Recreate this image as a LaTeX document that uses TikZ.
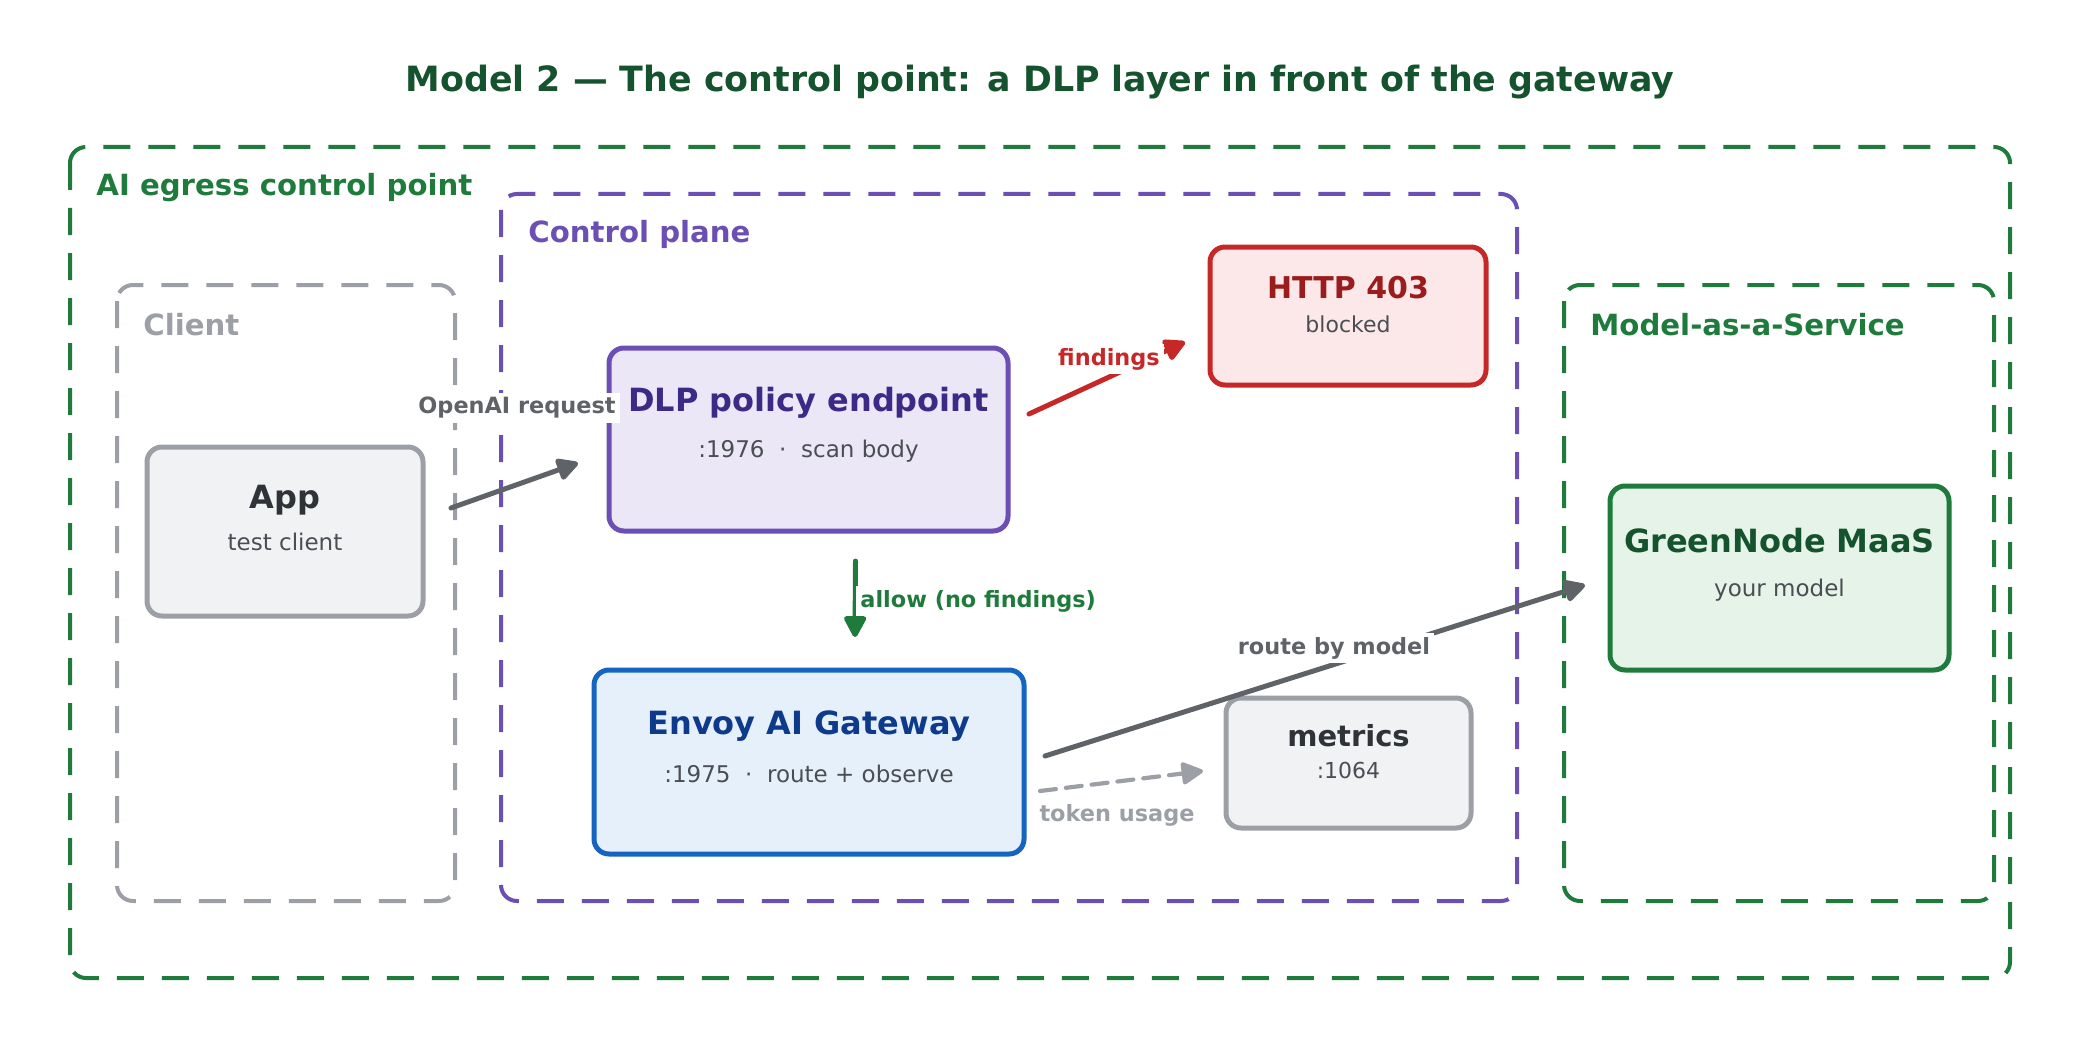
\documentclass[tikz,border=0pt]{standalone}
\usepackage{fontspec}
\setmainfont{DejaVu Sans}
\usetikzlibrary{arrows.meta}
\definecolor{titlegreen}{HTML}{14532D}
\definecolor{egress}{HTML}{1E7B3C}
\definecolor{plane}{HTML}{6B4FB3}
\definecolor{planeink}{HTML}{3B2A86}
\definecolor{planefill}{HTML}{ECE7F6}
\definecolor{clientgray}{HTML}{9CA0A6}
\definecolor{appfill}{HTML}{F1F2F4}
\definecolor{ink}{HTML}{2F3237}
\definecolor{subgray}{HTML}{4A4E54}
\definecolor{blockred}{HTML}{C62828}
\definecolor{redink}{HTML}{9B1C1C}
\definecolor{redfill}{HTML}{FCE8E8}
\definecolor{gwblue}{HTML}{1565C0}
\definecolor{blueink}{HTML}{0D3A8A}
\definecolor{bluefill}{HTML}{E6F0FA}
\definecolor{maasfill}{HTML}{E6F3E8}
\definecolor{arrowgray}{HTML}{5F6368}
\begin{document}
\begin{tikzpicture}[x=0.5pt,y=-0.5pt,
  group/.style={line width=2pt,dash pattern=on 13.5pt off 9pt,rounded corners=8pt},
  box/.style={rectangle,rounded corners=7.5pt,line width=2.5pt,inner sep=0pt,outer sep=0pt},
  boxttl/.style={font=\bfseries\fontsize{16}{19}\selectfont},
  boxsub/.style={font=\fontsize{11.5}{14}\selectfont,text=subgray},
  glabel/.style={anchor=west,inner sep=0pt,font=\bfseries\fontsize{14.6}{17}\selectfont},
  elabel/.style={font=\bfseries\fontsize{11.2}{13}\selectfont,fill=white,inner sep=2pt},
  flow/.style={line width=2.5pt,line cap=round,-{Triangle[length=12pt,width=12pt,round]}}]
\useasboundingbox (0,0) rectangle (2080,1064);
\node[font=\bfseries\fontsize{17.4}{21}\selectfont,text=titlegreen] (title) at (1040,82) {Model 2 — The control point: a DLP layer in front of the gateway};

% groups
\draw[group,egress] (70,147) rectangle (2010,978);
\node[glabel,text=egress] (egressLbl) at (96,188) {AI egress control point};
\draw[group,plane] (501,194) rectangle (1517,901);
\node[glabel,text=plane] (planeLbl) at (528,234) {Control plane};
\draw[group,clientgray] (117,285) rectangle (455,901);
\node[glabel,text=clientgray] (clientLbl) at (143,325) {Client};
\draw[group,egress] (1564,285) rectangle (1994,901);
\node[glabel,text=egress] (maasLbl) at (1590,325) {Model-as-a-Service};

% boxes
\node[box,draw=clientgray,fill=appfill,minimum width=138pt,minimum height=84.5pt] (app) at (285,531.5) {};
\node[boxttl,text=ink] (appT) at (285,500) {App};
\node[boxsub] (appS) at (285,542) {test client};

\node[box,draw=plane,fill=planefill,minimum width=199.5pt,minimum height=91.5pt] (dlp) at (808.5,439.5) {};
\node[boxttl,text=planeink] (dlpT) at (808.5,403) {DLP policy endpoint};
\node[boxsub] (dlpS) at (808.5,451) {:1976\ \ ·\ \ scan body};

\node[box,draw=blockred,fill=redfill,minimum width=138pt,minimum height=69pt] (http) at (1348,316) {};
\node[boxttl,text=redink,font=\bfseries\fontsize{15}{18}\selectfont] (httpT) at (1348,288) {HTTP 403};
\node[boxsub,font=\fontsize{11}{13}\selectfont] (httpS) at (1348,324) {blocked};

\node[box,draw=gwblue,fill=bluefill,minimum width=215pt,minimum height=92pt] (envoy) at (809,762) {};
\node[boxttl,text=blueink] (envoyT) at (809,726) {Envoy AI Gateway};
\node[boxsub] (envoyS) at (809,774) {:1975\ \ ·\ \ route + observe};

\node[box,draw=clientgray,fill=appfill,minimum width=122.5pt,minimum height=65pt] (metrics) at (1348.5,763) {};
\node[boxttl,text=ink,font=\bfseries\fontsize{14.5}{17}\selectfont] (metricsT) at (1348.5,736) {metrics};
\node[boxsub,font=\fontsize{11}{13}\selectfont] (metricsS) at (1348.5,770) {:1064};

\node[box,draw=egress,fill=maasfill,minimum width=169.5pt,minimum height=92pt] (maas) at (1779.5,578) {};
\node[boxttl,text=titlegreen] (maasT) at (1779.5,541) {GreenNode MaaS};
\node[boxsub] (maasS) at (1779.5,590) {your model};

% connectors
\draw[flow,arrowgray] ([shift={(28,-23.5)}]app.east) -- ([shift={(-31,23.5)}]dlp.west);
\draw[flow,blockred] ([shift={(21,-25.5)}]dlp.east) -- ([shift={(-25,26)}]http.west);
\draw[flow,egress] ([shift={(47,30)}]dlp.south) -- ([shift={(46,-33)}]envoy.north);
\draw[flow,arrowgray] ([shift={(21,-6)}]envoy.east) -- ([shift={(-25,7)}]maas.west);
\draw[flow,clientgray,line width=2.1pt,dash pattern=on 8pt off 5pt] ([shift={(16,29)}]envoy.east) -- ([shift={(-23,8)}]metrics.west);

\node[elabel,text=arrowgray] (reqLbl) at (517,408) {OpenAI request};
\node[elabel,text=blockred] (findLbl) at (1109,359) {findings};
\node[elabel,text=egress,anchor=west] (allowLbl) at (856,601) {allow (no findings)};
\node[elabel,text=arrowgray] (routeLbl) at (1334,648) {route by model};
\node[elabel,text=clientgray,fill=none] (tokLbl) at (1117,815) {token usage};
\end{tikzpicture}
\end{document}
